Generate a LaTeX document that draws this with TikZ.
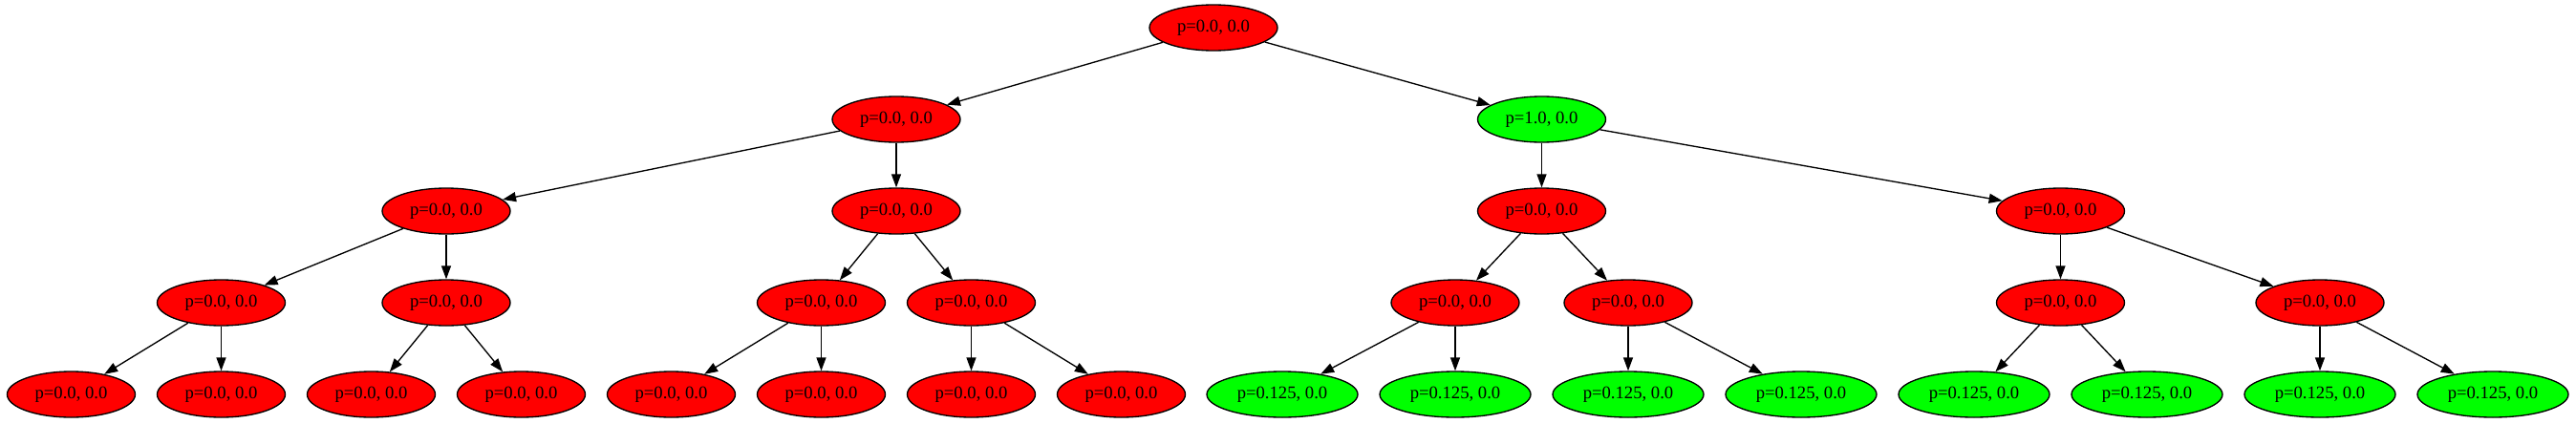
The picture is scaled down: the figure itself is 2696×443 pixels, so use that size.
\documentclass[tikz,border=0pt]{standalone}
\usepackage{fontspec}
\setmainfont{Liberation Serif}
\usepackage{tikz}
\usetikzlibrary{arrows.meta,shapes.geometric}
\definecolor{tRed}{HTML}{FF0000}
\definecolor{tGreen}{HTML}{00FF00}
\tikzset{
  % red state (p = 0)
  rnode/.style={ellipse,draw=black,line width=1pt,fill=tRed,
    minimum width=100.5pt,minimum height=36pt,inner sep=0pt,
    font=\fontsize{14}{16}\selectfont},
  % green state (p > 0)
  gnode/.style={rnode,fill=tGreen},
  % wider leaf for longer label
  gleaf/.style={gnode,minimum width=118.5pt},
  % edges
  arr/.style={-{Triangle[length=10.5pt,width=7.5pt]},line width=1pt,color=black},
}
\begin{document}
\begin{tikzpicture}[x=0.75pt,y=-0.75pt]
  \useasboundingbox (0,0) rectangle (2696,443);

  % level 0
  \node[rnode] (t) at (1270,29) {p=0.0, 0.0};

  % level 1
  \node[rnode] (a1) at (938,125) {p=0.0, 0.0};
  \node[gnode] (a2) at (1613.5,125) {p=1.0, 0.0};

  % level 2
  \node[rnode] (b1) at (467,221) {p=0.0, 0.0};
  \node[rnode] (b2) at (938,221) {p=0.0, 0.0};
  \node[rnode] (b3) at (1613.5,221) {p=0.0, 0.0};
  \node[rnode] (b4) at (2156.5,221) {p=0.0, 0.0};

  % level 3
  \node[rnode] (c1) at (231.5,317) {p=0.0, 0.0};
  \node[rnode] (c2) at (467,317) {p=0.0, 0.0};
  \node[rnode] (c3) at (859.5,317) {p=0.0, 0.0};
  \node[rnode] (c4) at (1016.5,317) {p=0.0, 0.0};
  \node[rnode] (c5) at (1523,317) {p=0.0, 0.0};
  \node[rnode] (c6) at (1704,317) {p=0.0, 0.0};
  \node[rnode] (c7) at (2156.5,317) {p=0.0, 0.0};
  \node[rnode] (c8) at (2428,317) {p=0.0, 0.0};

  % level 4 (leaves)
  \foreach \i/\x in {1/74.5,2/231.5,3/388.5,4/545.5,5/702.5,6/859.5,7/1016.5,8/1173.5}
    \node[rnode] (d\i) at (\x,413) {p=0.0, 0.0};
  \foreach \i/\x in {9/1342,10/1523,11/1704,12/1885,13/2066,14/2247,15/2428,16/2609}
    \node[gleaf] (d\i) at (\x,413) {p=0.125, 0.0};

  \foreach \from/\to in {t/a1,t/a2,a1/b1,a1/b2,a2/b3,a2/b4,
      b1/c1,b1/c2,b2/c3,b2/c4,b3/c5,b3/c6,b4/c7,b4/c8,
      c1/d1,c1/d2,c2/d3,c2/d4,c3/d5,c3/d6,c4/d7,c4/d8,
      c5/d9,c5/d10,c6/d11,c6/d12,c7/d13,c7/d14,c8/d15,c8/d16}
    \draw[arr] (\from) -- (\to);

\end{tikzpicture}
\end{document}
